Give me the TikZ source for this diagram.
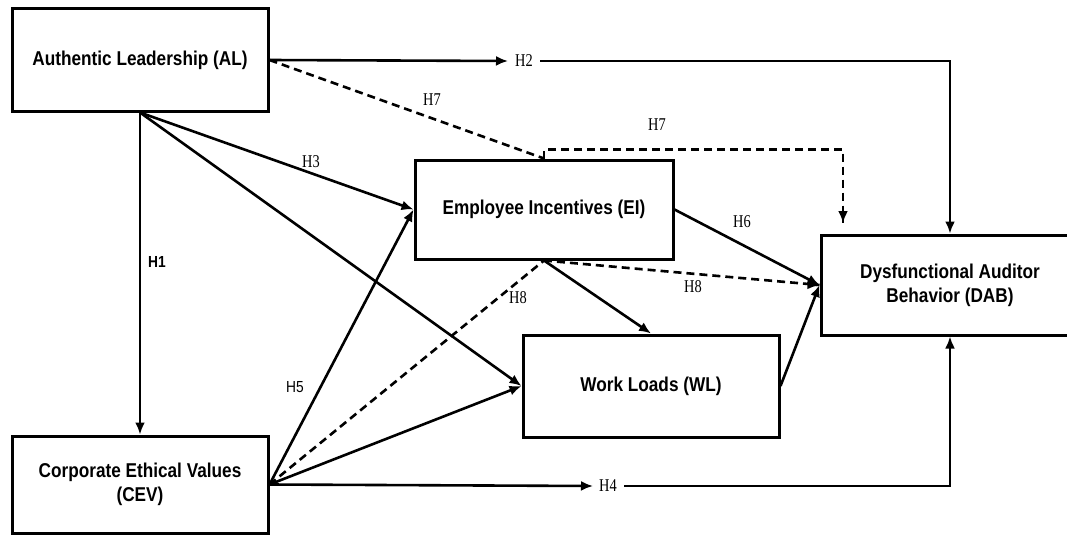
\documentclass[tikz,border=0pt]{standalone}
\usepackage{fontspec}
\setmainfont{Liberation Sans}
\newfontfamily\boxfont[FakeStretch=0.86]{Liberation Sans}
\newfontfamily\hfont[FakeStretch=0.8]{Liberation Serif}
\usetikzlibrary{arrows.meta,calc}
\begin{document}
\begin{tikzpicture}[x=1pt,y=-1pt,
  box/.style={draw, line width=3pt, align=center, inner sep=0pt,
    font=\boxfont\bfseries\fontsize{20}{24}\selectfont},
  conn/.style={line width=2.6pt},
  arr/.style={conn, -{Latex[length=12pt,width=10pt]}},
  dsh/.style={conn, dash pattern=on 8pt off 5pt},
  hlab/.style={font=\hfont\fontsize{18}{20}\selectfont, inner sep=1pt},
  slab/.style={font=\boxfont\fontsize{16}{18}\selectfont, inner sep=1pt}]
\useasboundingbox (0,0) rectangle (1067,535);
\fill[white] (0,0) rectangle (1067,535);
% boxes
\node[box, minimum width=256pt, minimum height=102pt] (AL) at (140,60) {Authentic Leadership (AL)};
\node[box, minimum width=256pt, minimum height=97pt] (CEV) at (140,484.5) {Corporate Ethical Values\\(CEV)};
\node[box, minimum width=258pt, minimum height=99pt] (EI) at (544,209.5) {Employee Incentives (EI)};
\node[box, minimum width=256pt, minimum height=102pt] (WL) at (651,386) {Work Loads (WL)};
\node[box, minimum width=258pt, minimum height=100pt] (DAB) at (950,285) {Dysfunctional Auditor\\Behavior (DAB)};
% labels
\node[slab, font=\boxfont\bfseries\fontsize{16}{18}\selectfont] (H1) at (157,262) {H1};
\node[hlab] (H2) at (524,61) {H2};
\node[hlab] (H3) at (311,162) {H3};
\node[hlab] (H4) at (608,486) {H4};
\node[slab] (H5) at (295,387) {H5};
\node[hlab] (H6) at (742,222) {H6};
\node[hlab] (H7a) at (432,100) {H7};
\node[hlab] (H7b) at (657,125) {H7};
\node[hlab] (H8a) at (518,298) {H8};
\node[hlab] (H8b) at (693,287) {H8};
\coordinate (e7) at (843,223);
% connectors
\draw[arr] (AL.south) -- (CEV.north);
\draw[arr] (AL.east) -- ($(H2.west)+(-6,0)$);
\draw[arr] ($(H2.east)+(6,0)$) -| (DAB.north);
\draw[dsh] (AL.east) -- (EI.north);
\draw[dsh] (EI.north) -- ++(0,-9) -| (e7);
\draw[arr] ($(e7)+(0,-2)$) -- (e7);
\draw[arr] (AL.south) -- (EI.west);
\draw[arr] (AL.south) -- (WL.west);
\draw[arr] (CEV.east) -- (EI.west);
\draw[dsh] (CEV.east) -- (EI.south);
\draw[dsh] (EI.south) -- (DAB.west);
\draw[arr] ($(DAB.west)+(-2,-0.1)$) -- (DAB.west);
\draw[arr] (CEV.east) -- (WL.west);
\draw[arr] (CEV.east) -- ($(H4.west)+(-5,0)$);
\draw[arr] ($(H4.east)+(6,0)$) -| (DAB.south);
\draw[arr] (EI.east) -- (DAB.west);
\draw[arr] (EI.south) -- (WL.north);
\draw[arr] (WL.east) -- (DAB.west);
\end{tikzpicture}
\end{document}
